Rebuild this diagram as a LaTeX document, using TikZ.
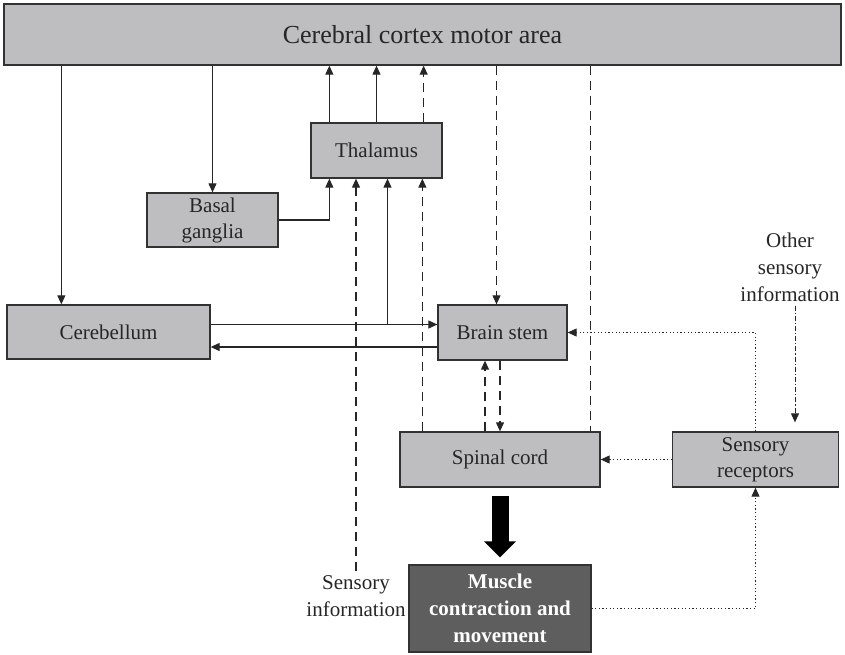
\documentclass[tikz,border=0pt]{standalone}
\usepackage{fontspec}
\setmainfont{Liberation Serif}
\usetikzlibrary{arrows.meta}
\definecolor{boxgray}{RGB}{190,190,193}
\definecolor{darkbox}{RGB}{94,94,94}
\definecolor{edge}{RGB}{50,50,50}
\begin{document}
\begin{tikzpicture}[x=1pt,y=-1pt,
    box/.style={draw=edge,line width=1.3pt,fill=boxgray,align=center,inner sep=0pt,
      text=black!85,font=\fontsize{21}{26}\selectfont},
    label/.style={align=center,inner sep=4pt,text=black!85,font=\fontsize{21}{27}\selectfont},
    tip/.style={-{Triangle[length=9pt,width=8pt]}},
    conn/.style={line width=1.1pt,draw=black!85,tip},
    dashline/.style={line width=1.1pt,draw=black!85,dash pattern=on 9pt off 6pt},
    dashconn/.style={dashline,tip},
    dotconn/.style={line width=1pt,draw=black!85,dash pattern=on 1.2pt off 2.4pt,tip},
    dashdotconn/.style={line width=1pt,draw=black!85,dash pattern=on 5pt off 2pt on 1.2pt off 2pt,tip},
    bigarrow/.style={line width=17pt,draw=black,-{Triangle[length=16pt,width=31pt]}}]
  \useasboundingbox (0,0) rectangle (845,654);
  % boxes
  \node[box,minimum width=837pt,minimum height=61pt,font=\fontsize{26}{30}\selectfont]
    (cortex) at (422.5,34.5) {Cerebral cortex motor area};
  \node[box,minimum width=131pt,minimum height=55pt] (thal) at (376.5,150.5) {Thalamus};
  \node[box,minimum width=131pt,minimum height=54pt] (basal) at (212.5,220) {Basal\\ganglia};
  \node[box,minimum width=203pt,minimum height=54pt] (cereb) at (108.5,332) {Cerebellum};
  \node[box,minimum width=129pt,minimum height=55pt] (stem) at (502.5,332.5) {Brain stem};
  \node[box,minimum width=200pt,minimum height=55pt] (spinal) at (500,459.5) {Spinal cord};
  \node[box,minimum width=166pt,minimum height=55pt] (recept) at (755.5,459.5) {Sensory\\receptors};
  \node[box,fill=darkbox,text=white,font=\bfseries\fontsize{21}{27}\selectfont,
    minimum width=182pt,minimum height=87pt] (muscle) at (500,608.5)
    {Muscle\\contraction and\\movement};
  \node[label] (sensinfo) at (356,596) {Sensory\\information};
  \node[label] (othinfo) at (790,267) {Other\\sensory\\information};

  % cortex down
  \coordinate (cbin) at ([xshift=55pt]cereb.north west);
  \draw[conn] (cortex.south -| cbin) -- (cbin);
  \draw[conn] (cortex.south -| basal.north) -- (basal.north);
  % thalamus up
  \coordinate (th1) at ([xshift=19pt]thal.north west);
  \coordinate (th3) at ([xshift=-19pt]thal.north east);
  \draw[conn] (th1) -- (cortex.south -| th1);
  \draw[conn] (thal.north) -- (cortex.south -| thal.north);
  \draw[dashconn] (th3) -- (cortex.south -| th3);
  \draw[conn] (basal.east) -| (thal.south -| th1);
  % cerebellum and brain stem
  \coordinate (cbout) at ([yshift=7.5pt]cereb.east);
  \coordinate (stout) at ([yshift=-14.5pt]stem.west);
  \coordinate (br) at ([xshift=11pt]thal.south);
  \draw[conn] (cbout) -- (cbout -| stem.west);
  \draw[conn] (stout) -- (stout -| cereb.east);
  \draw[conn] (cbout -| br) -- (br);
  % sensory paths to thalamus
  \draw[dashconn] (sensinfo.north) -- (sensinfo.north |- thal.south);
  \coordinate (sp1) at ([xshift=23pt]spinal.north west);
  \draw[dashconn] (sp1) -- (sp1 |- thal.south);
  % cortex to brain stem and spinal cord
  \coordinate (stin) at ([xshift=-6pt]stem.north);
  \draw[dashconn] (cortex.south -| stin) -- (stin);
  \coordinate (sp4) at ([xshift=-10pt]spinal.north east);
  \draw[dashline] (cortex.south -| sp4) -- (sp4);
  % brain stem and spinal cord
  \coordinate (spup) at ([xshift=-15pt]spinal.north);
  \draw[dashconn] (spup) -- (spup |- stem.south);
  \draw[dashconn] (stem.south -| spinal.north) -- (spinal.north);
  % receptors
  \draw[dotconn] (recept.north) |- (stem.east);
  \draw[dotconn] (recept.west) -- (spinal.east);
  \draw[dotconn] (muscle.east) -| (recept.south);
  \coordinate (oth) at ([xshift=5pt]othinfo.south);
  \draw[dashdotconn,shorten >=9pt] (oth) -- (oth |- recept.north);
  % output
  \draw[bigarrow] ([yshift=-8pt]spinal.south) -- ([yshift=7pt]muscle.north);
\end{tikzpicture}
\end{document}
